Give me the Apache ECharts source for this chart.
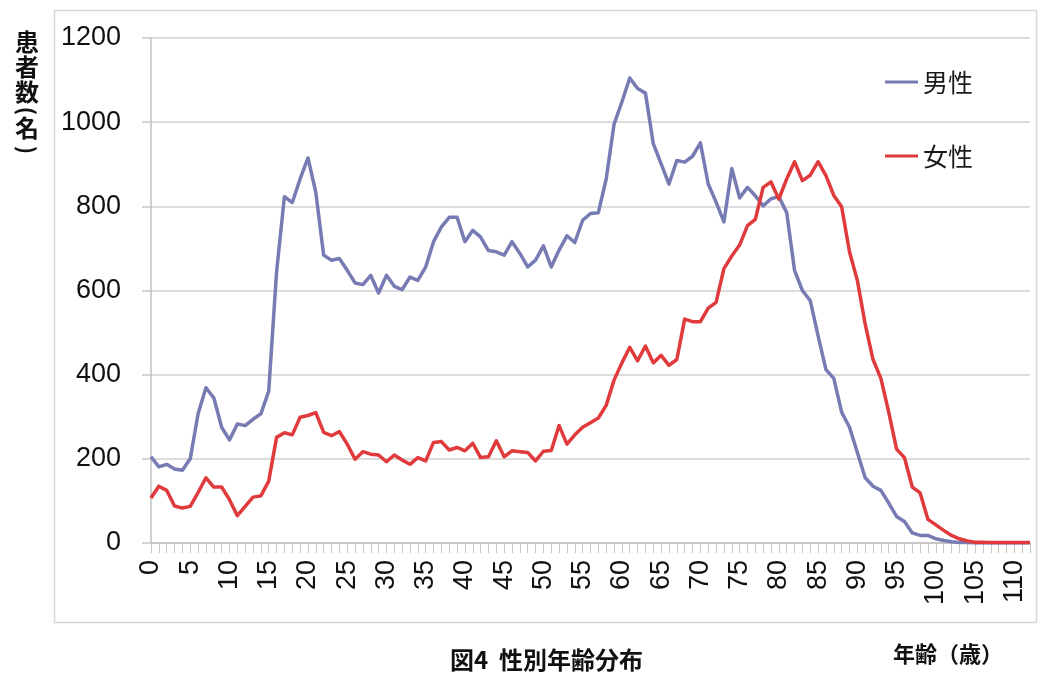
<!DOCTYPE html>
<html>
<head>
<meta charset="utf-8">
<script src="https://cdn.jsdelivr.net/npm/echarts@6/dist/echarts.min.js"></script>
<style>
  html, body { margin: 0; padding: 0; background: #fff; }
  #chart { width: 1038px; height: 692px; }
</style>
</head>
<body>
<div id="chart"></div>
<script>
// 年齢 0〜112歳
var ages = [];
for (var i = 0; i <= 112; i++) ages.push(String(i));

// 男性（患者数）
var male = [
  205, 181, 187, 176, 173, 200, 307, 369, 345, 275,
  245, 283, 279, 294, 307, 361, 644, 823, 809, 865,
  915, 833, 684, 672, 676, 648, 618, 614, 636, 594,
  636, 610, 602, 632, 624, 656, 716, 751, 774, 774,
  716, 743, 727, 695, 692, 684, 716, 688, 656, 672,
  706, 656, 696, 730, 714, 767, 783, 785, 865, 995,
  1048, 1105, 1080, 1069, 949, 901, 853, 909, 905, 919,
  951, 853, 810, 763, 890, 820, 845, 825, 801, 818,
  823, 785, 648, 600, 576, 492, 412, 391, 311, 275,
  215, 155, 135, 125, 95, 63, 51, 24, 18, 18,
  10, 6, 3, 1, 1, 0, 0, 0, 0, 0,
  0, 0, 0
];

// 女性（患者数）
var female = [
  107, 135, 125, 88, 83, 87, 120, 155, 133, 133,
  103, 65, 87, 109, 112, 147, 251, 262, 257, 299,
  303, 310, 263, 255, 265, 235, 199, 217, 211, 209,
  193, 209, 197, 187, 203, 195, 239, 241, 221, 227,
  219, 237, 203, 205, 243, 205, 219, 217, 215, 195,
  218, 220, 279, 235, 257, 275, 286, 297, 327, 387,
  428, 465, 433, 468, 428, 446, 422, 436, 532, 526,
  526, 558, 572, 652, 682, 708, 754, 769, 845, 858,
  817, 865, 906, 861, 874, 906, 873, 826, 799, 692,
  624, 520, 436, 391, 311, 223, 203, 133, 119, 56,
  43, 30, 18, 10, 5, 2, 2, 1, 1, 1,
  1, 1, 1
];

var yTicks = [0, 200, 400, 600, 800, 1000, 1200];

var chart = echarts.init(document.getElementById('chart'));
var jp = '"Noto Sans CJK JP", sans-serif';
var num = '"Liberation Sans", Arial, sans-serif';

// 縦書きの軸タイトル「患者数（名）」
function vChar(ch, y, rot, size) {
  return {
    type: 'text',
    x: 27,
    y: y,
    rotation: rot || 0,
    style: {
      text: ch,
      fontFamily: jp,
      fontSize: size || 24,
      fontWeight: 'bold',
      fill: '#111',
      align: 'center',
      verticalAlign: 'middle'
    }
  };
}

var option = {
  animation: false,
  backgroundColor: '#fff',
  grid: {
    left: 151,
    right: 8,
    top: 38,
    bottom: 149,
    containLabel: false,
    outerBoundsMode: 'none'
  },
  legend: {
    orient: 'vertical',
    left: 880,
    top: 62,
    itemGap: 44,
    itemWidth: 33,
    itemHeight: 3,
    icon: 'rect',
    data: ['男性', '女性'],
    textStyle: { fontFamily: jp, fontSize: 25, color: '#1a1a1a', lineHeight: 30 }
  },
  xAxis: {
    type: 'category',
    data: ages,
    boundaryGap: false,
    axisLine: { lineStyle: { color: '#bfbfbf', width: 1.5 } },
    axisTick: { interval: 0, length: 10, lineStyle: { color: '#c8c8c8', width: 1 } },
    axisLabel: {
      interval: 4,
      rotate: 90,
      margin: 17,
      fontFamily: num,
      fontSize: 27,
      color: '#111'
    },
    splitLine: { show: false }
  },
  yAxis: {
    type: 'value',
    min: yTicks[0],
    max: yTicks[yTicks.length - 1],
    interval: 200,
    axisLine: { show: true, lineStyle: { color: '#bfbfbf', width: 1.5 } },
    axisTick: { show: true, length: 9, lineStyle: { color: '#c8c8c8', width: 1.5 } },
    axisLabel: {
      margin: 30,
      fontFamily: num,
      fontSize: 27,
      color: '#111',
      formatter: function (v) { return String(v); }
    },
    splitLine: { lineStyle: { color: '#d0d0d0', width: 1.5 } }
  },
  series: [
    {
      name: '男性',
      type: 'line',
      data: male,
      showSymbol: false,
      smooth: false,
      color: '#767bb3',
      lineStyle: { width: 3.5, color: '#767bb3', join: 'round' }
    },
    {
      name: '女性',
      type: 'line',
      data: female,
      showSymbol: false,
      smooth: false,
      color: '#e03a3c',
      lineStyle: { width: 3.5, color: '#e03a3c', join: 'round' }
    }
  ],
  graphic: [
    {
      type: 'rect',
      z: -10,
      silent: true,
      shape: { x: 54.5, y: 10.5, width: 982, height: 612 },
      style: { fill: 'none', stroke: '#d6d6d6', lineWidth: 1.5 }
    },
    vChar('患', 42),
    vChar('者', 67),
    vChar('数', 92),
    vChar('(', 111, -Math.PI / 2, 22),
    vChar('名', 128),
    vChar(')', 150, -Math.PI / 2, 22),
    {
      type: 'text',
      left: 450,
      top: 648,
      style: {
        text: '図4  性別年齢分布',
        fontFamily: jp,
        fontSize: 24,
        fontWeight: 'bold',
        fill: '#111'
      }
    },
    {
      type: 'text',
      left: 893,
      top: 643,
      style: {
        text: '年齢（歳）',
        fontFamily: jp,
        fontSize: 22,
        fontWeight: 'bold',
        fill: '#111'
      }
    }
  ]
};

chart.setOption(option);
</script>
</body>
</html>
